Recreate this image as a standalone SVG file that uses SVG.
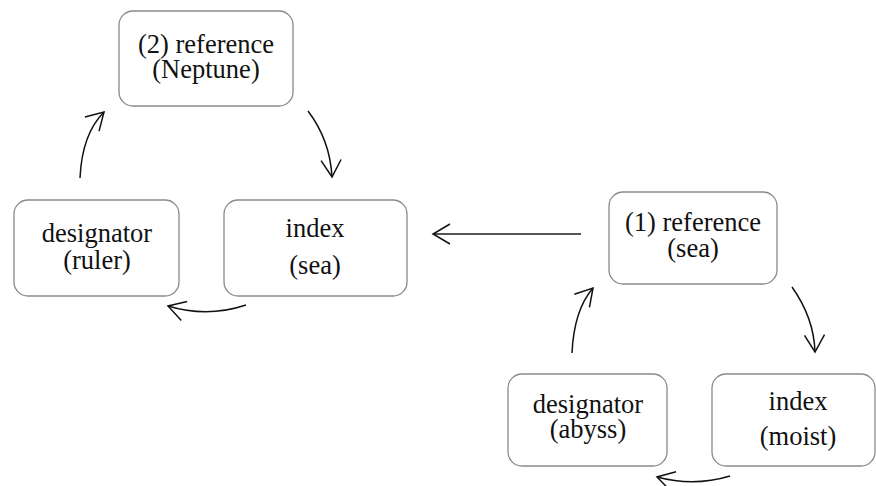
<svg xmlns="http://www.w3.org/2000/svg" width="876" height="486" viewBox="0 0 876 486">
  <defs>
    <style>
      .box { fill: #ffffff; stroke: #8a8a8a; stroke-width: 1.3; }
      .lbl { font-size: 26.5px; fill: #111111; text-anchor: middle; }
      .arc { fill: none; stroke: #111111; stroke-width: 1.5; marker-end: url(#chev); }
      .straight { fill: none; stroke: #555555; stroke-width: 1.8; marker-end: url(#chev); }
    </style>
    <marker id="chev" markerUnits="userSpaceOnUse" markerWidth="24" markerHeight="24" viewBox="-20 -12 24 24" refX="0" refY="0" orient="auto">
      <path d="M-17,-10 L0,0 L-17,10" fill="none" stroke="#111111" stroke-width="1.5"/>
    </marker>
  </defs>
  <rect width="876" height="486" fill="#ffffff"/>

  <g id="connectors">
    <!-- second cycle -->
    <path class="arc" d="M80,178 Q82,134 104,112"/>
    <path class="arc" d="M308,111 Q330,140 332,177"/>
    <path class="arc" d="M246,305 Q207,318 168,306"/>
    <!-- link between cycles -->
    <path class="straight" d="M581,234 L433,234"/>
    <!-- first cycle -->
    <path class="arc" d="M572,353 Q574,310 593,288"/>
    <path class="arc" d="M792,287 Q814,318 815,352"/>
    <path class="arc" d="M730,476 Q694,487 657,477"/>
  </g>

  <g font-family="Liberation Serif, DejaVu Serif, serif">
    <g id="ref2">
      <rect class="box" x="119" y="11" width="174" height="95" rx="14"/>
      <text class="lbl" x="206" y="53">(2) reference</text>
      <text class="lbl" x="206" y="78">(Neptune)</text>
    </g>
    <g id="designator-ruler">
      <rect class="box" x="14" y="200" width="165" height="96" rx="14"/>
      <text class="lbl" x="97" y="242">designator</text>
      <text class="lbl" x="97" y="269">(ruler)</text>
    </g>
    <g id="index-sea">
      <rect class="box" x="224" y="200" width="183" height="96" rx="14"/>
      <text class="lbl" x="315" y="237">index</text>
      <text class="lbl" x="315" y="274">(sea)</text>
    </g>

    <g id="ref1">
      <rect class="box" x="609" y="192" width="168" height="92" rx="14"/>
      <text class="lbl" x="693" y="231">(1) reference</text>
      <text class="lbl" x="693" y="257">(sea)</text>
    </g>
    <g id="designator-abyss">
      <rect class="box" x="508" y="374" width="159" height="92" rx="14"/>
      <text class="lbl" x="588" y="413">designator</text>
      <text class="lbl" x="588" y="438">(abyss)</text>
    </g>
    <g id="index-moist">
      <rect class="box" x="712" y="374" width="163" height="92" rx="14"/>
      <text class="lbl" x="798" y="410">index</text>
      <text class="lbl" x="798" y="445">(moist)</text>
    </g>
  </g>
</svg>
